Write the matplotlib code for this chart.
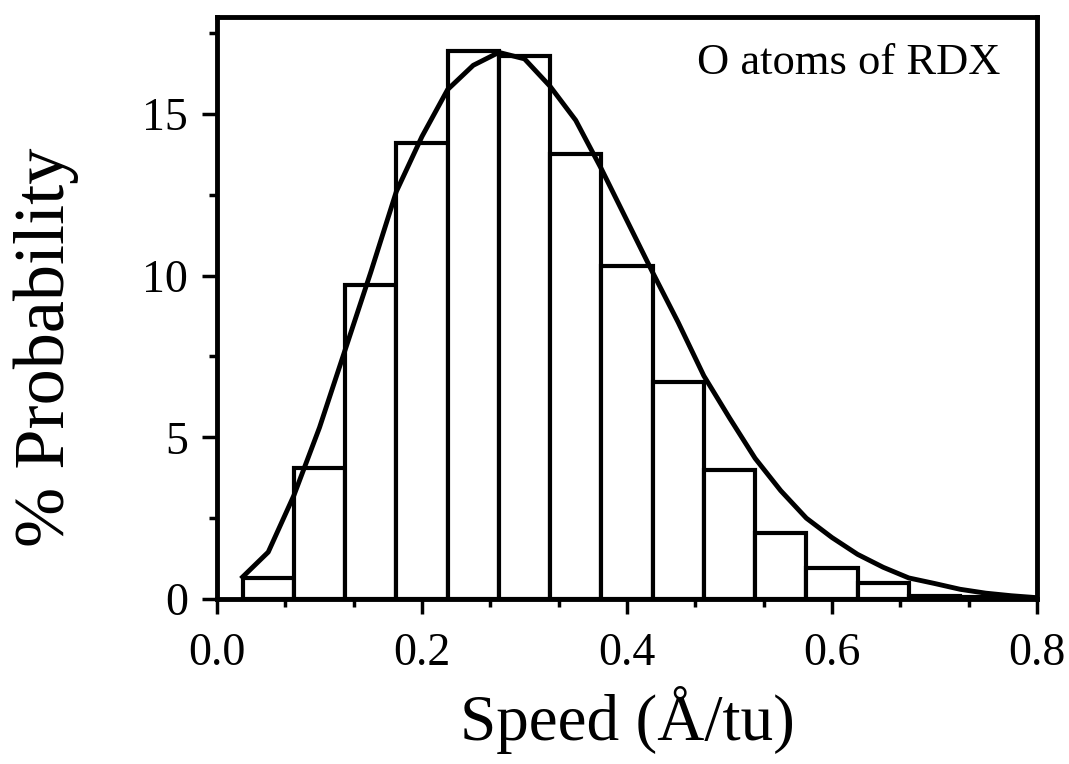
import matplotlib
matplotlib.use('Agg')
import matplotlib.pyplot as plt
from matplotlib.ticker import MultipleLocator, AutoMinorLocator

plt.rcParams['font.family'] = ['Liberation Serif', 'DejaVu Serif']

# histogram, bin centres and % probability
bin_centers = [0.05, 0.10, 0.15, 0.20, 0.25, 0.30, 0.35, 0.40,
               0.45, 0.50, 0.55, 0.60, 0.65, 0.70, 0.75]
bin_heights = [0.65, 4.05, 9.7, 14.1, 16.93, 16.8, 13.75, 10.3,
               6.7, 4.0, 2.05, 0.95, 0.5, 0.1, 0.06]
bin_width = 0.05

# fitted distribution curve
curve_x = [0.025, 0.05, 0.075, 0.1, 0.125, 0.15, 0.175, 0.2, 0.225, 0.25,
           0.275, 0.3, 0.325, 0.35, 0.375, 0.4, 0.425, 0.45, 0.475, 0.5,
           0.525, 0.55, 0.575, 0.6, 0.625, 0.65, 0.675, 0.7, 0.725, 0.75,
           0.775, 0.8]
curve_y = [0.68, 1.45, 3.2, 5.3, 7.7, 10.1, 12.6, 14.3, 15.75, 16.5,
           16.9, 16.7, 15.85, 14.8, 13.3, 11.7, 10.1, 8.55, 6.9, 5.6,
           4.35, 3.35, 2.5, 1.9, 1.38, 0.98, 0.65, 0.48, 0.3, 0.18,
           0.1, 0.04]

fig = plt.figure(figsize=(10.69, 7.64), dpi=100)
ax = fig.add_axes([0.203, 0.216, 0.767, 0.762])

ax.bar(bin_centers, bin_heights, width=bin_width, facecolor='white',
       edgecolor='black', linewidth=3, zorder=2)
ax.plot(curve_x, curve_y, color='black', linewidth=3.5, zorder=3,
        solid_joinstyle='round')

ax.set_xlim(0, 0.8)
ax.set_ylim(0, 18)
ax.xaxis.set_major_locator(MultipleLocator(0.2))
ax.xaxis.set_minor_locator(AutoMinorLocator(3))
ax.yaxis.set_major_locator(MultipleLocator(5))
ax.yaxis.set_minor_locator(AutoMinorLocator(2))
ax.xaxis.set_major_formatter(plt.FormatStrFormatter('%.1f'))

for s in ax.spines.values():
    s.set_linewidth(3.5)
    s.set_zorder(4)

ax.tick_params(which='both', direction='out', width=2.5, labelsize=33,
               top=False, right=False)
ax.tick_params(which='major', length=11)
ax.tick_params(which='minor', length=6)
ax.tick_params(axis='x', which='major', pad=13)
ax.tick_params(axis='y', which='major', pad=10)

ax.set_xlabel('Speed (Å/tu)', fontsize=47, labelpad=8)
ax.set_ylabel('% Probability', fontsize=52)
ax.yaxis.set_label_coords(-0.168, 0.433)

ax.text(0.955, 0.955, 'O atoms of RDX', transform=ax.transAxes,
        ha='right', va='top', fontsize=32)

fig.savefig('out.png', dpi=100)
